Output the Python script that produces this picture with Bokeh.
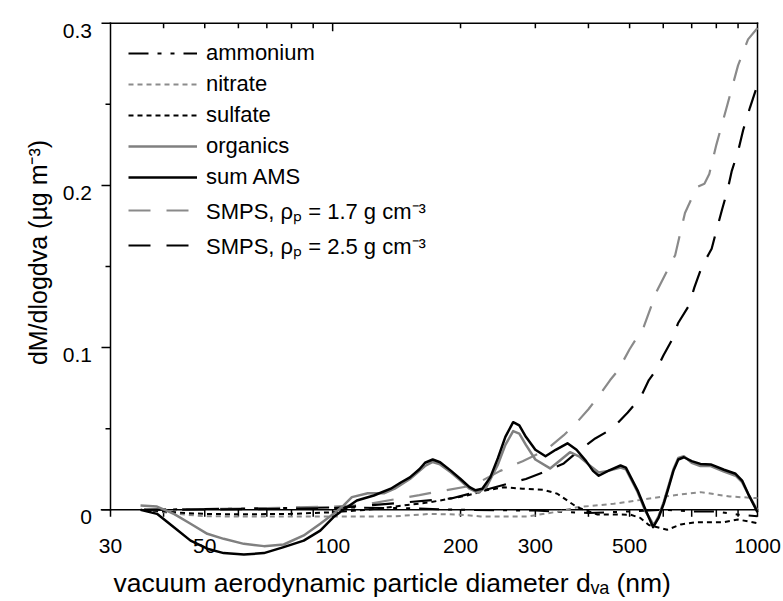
import math
from bokeh.plotting import figure
from bokeh.models import Range1d, Legend, LegendItem
from bokeh.core.properties import value
from bokeh.embed import file_html
from bokeh.resources import INLINE

FONT = "Liberation Sans"

# ---------------- data ----------------
x_tick_values = [30, 50, 100, 200, 300, 500, 1000]
x_tick_labels = ["30", "50", "100", "200", "300", "500", "1000"]
x_minor_ticks = [40, 60, 70, 80, 90, 400, 600, 700, 800, 900]
top_major_ticks = [100]
top_minor_ticks = [40, 50, 60, 70, 80, 90, 200, 300, 400, 500, 600, 700, 800, 900]
y_tick_values = [0, 0.1, 0.2, 0.3]
y_tick_labels = ["0", "0.1", "0.2", "0.3"]
y_minor_ticks = [0.05, 0.15, 0.25]

sum_d = [35.3, 38.6, 42.3, 46.3, 50.7, 55.4, 61.8, 68.9, 76.7, 85.5, 93.5, 100.5, 106, 114, 125,
         137, 145, 152, 160, 165, 172, 179, 190, 200, 210, 217, 225, 235, 245, 255, 266, 275,
         285, 300, 317, 335, 357, 375, 395, 410, 423, 445, 476, 490, 522, 545, 568, 585, 602, 618,
         634, 651, 671, 700, 734, 776, 834, 888, 920, 950, 1000]
sum_v = [0.0, -0.0025, -0.0107, -0.019, -0.024, -0.0267, -0.0276, -0.0267, -0.023, -0.019,
         -0.0128, -0.0045, 0.0, 0.0057, 0.0088, 0.013, 0.017,
         0.020, 0.025, 0.029, 0.031, 0.0293, 0.024, 0.019, 0.014, 0.012, 0.013, 0.020, 0.032,
         0.045, 0.054, 0.052, 0.045, 0.037, 0.033, 0.037, 0.041, 0.037, 0.030, 0.024, 0.021,
         0.024, 0.0273, 0.026, 0.012, 0.0, -0.0107, -0.005, 0.004, 0.014, 0.024, 0.031, 0.0324,
         0.030, 0.0283, 0.028, 0.0247, 0.0222, 0.018, 0.010, -0.0015]

org_d = [35.3, 38.6, 42.3, 46.3, 50.7, 55.4, 61.8, 68.9, 76.7, 85.5, 93.5, 100.5, 106, 111, 121,
         132, 140, 152, 165,
         172, 179, 190, 200, 210, 220, 230, 245, 255, 266, 275, 285, 300, 325, 345, 362, 380, 400,
         423, 445, 476, 490, 522, 545, 570, 585, 602, 618, 634, 651, 671, 700, 734, 776, 834, 888,
         920, 950, 1000]
org_v = [0.0026, 0.002, -0.0025, -0.0086, -0.0148, -0.0179, -0.021, -0.0224, -0.0214, -0.0158,
         -0.0086, -0.0025, 0.0026, 0.0078, 0.0102, 0.0102, 0.013, 0.019, 0.027, 0.0295, 0.028,
         0.023, 0.018,
         0.013, 0.0105, 0.014, 0.028, 0.040, 0.0485, 0.047, 0.040, 0.031, 0.0255, 0.031, 0.0355,
         0.033, 0.028, 0.023, 0.024, 0.026, 0.025, 0.011, -0.001, -0.0095, -0.004, 0.005, 0.015,
         0.025, 0.032, 0.033, 0.029, 0.027, 0.027, 0.0235, 0.021, 0.017, 0.010, -0.0005]

sulf_d = [36, 45, 50, 60, 80, 100, 120, 140, 170, 207, 230, 253, 280, 314, 338, 360, 376, 420,
          502, 530, 555, 613, 660, 720, 834, 900, 1000]
sulf_v = [0.0, -0.002, -0.0025, -0.0028, -0.0025, -0.0015, 0.0, 0.002, 0.0047, 0.0088, 0.012,
          0.0139, 0.013, 0.0123, 0.0099, 0.005, 0.0016, -0.0029, -0.003, -0.005, -0.0094,
          -0.0123, -0.009, -0.0076, -0.0076, -0.006, -0.0082]

nit_d = [36, 45, 50, 70, 100, 140, 170, 200, 223, 287, 340, 376, 459, 602, 734, 860, 1000]
nit_v = [0.0, -0.003, -0.004, -0.0042, -0.0042, -0.004, -0.0025, -0.003, -0.0041, -0.0041,
         -0.0011, 0.0016, 0.0037, 0.0082, 0.0109, 0.0082, 0.0072]

amm_d = [36, 50, 70, 100, 150, 200, 300, 400, 500, 600, 700, 800, 900, 1000]
amm_v = [0.0, 0.0005, 0.001, 0.0015, 0.001, 0.0, -0.0005, -0.002, -0.001, 0.0, -0.001, -0.001,
         -0.003, -0.004]

smps17_d = [36, 50, 70, 100, 118, 140, 160, 175, 214, 248, 280, 317, 350, 373, 400, 428, 450,
            470, 500, 540, 580, 640, 675, 720, 750, 770, 800, 850, 900, 950, 1000]
smps17_v = [0.0, 0.0005, 0.001, 0.002, 0.003, 0.0065, 0.009, 0.011, 0.015, 0.024, 0.030,
            0.0366, 0.046, 0.053, 0.062, 0.072, 0.080, 0.086, 0.099, 0.113, 0.135, 0.157,
            0.183, 0.199, 0.201, 0.207, 0.225, 0.250, 0.274, 0.290, 0.297]

smps25_d = [36, 70, 100, 147, 190, 234, 258, 285, 320, 350, 380, 415, 455, 495, 530, 555, 580,
            600, 630, 650, 690, 710, 740, 780, 800, 825, 850, 870, 900, 925, 960, 1000]
smps25_v = [0.0, 0.0005, 0.001, 0.0045, 0.007, 0.013, 0.016, 0.019, 0.024, 0.0286, 0.0366,
            0.044, 0.050, 0.060, 0.069, 0.080, 0.087, 0.095, 0.105, 0.115, 0.126, 0.137, 0.150,
            0.161, 0.172, 0.185, 0.197, 0.209, 0.221, 0.234, 0.248, 0.262]

# ---------------- layout (pixels) ----------------
W, H = 783, 601
PX_L, PX_R = 110.0, 757.0       # columns of d = 30 and d = 1000
PX_Y0, PX_YT = 509.3, 22.7      # rows of y = 0 and y = 0.3
X_LO, X_HI = 30.0, 1000.0
Y_HI = 0.3
PPD = (PX_R - PX_L) / math.log10(X_HI / X_LO)   # pixels per decade
PPU = (PX_Y0 - PX_YT) / Y_HI                     # pixels per unit of y


def xd(px):
    """data x for a canvas column"""
    return X_LO * 10 ** ((px - PX_L) / PPD)


def yd(py):
    """data y for a canvas row"""
    return (PX_Y0 - py) / PPU


# the frame covers the whole canvas; the axes are drawn with the data scales
p = figure(width=W, height=H, x_axis_type="log",
           x_range=Range1d(xd(0), xd(W)), y_range=Range1d(yd(H), yd(0)),
           x_axis_location=None, y_axis_location=None, title=None,
           output_backend="svg", toolbar_location=None, min_border=0)
p.title_location = None
p.outline_line_color = None
p.xgrid.grid_line_color = None
p.ygrid.grid_line_color = None
p.background_fill_color = "white"
p.border_fill_color = "white"

AX = dict(line_color="black", line_width=1.5)

# frame: top, left, right edges and the zero line
p.multi_line(xs=[[X_LO, X_HI], [X_LO, X_LO], [X_HI, X_HI], [xd(PX_L - 9), X_HI]],
             ys=[[Y_HI, Y_HI], [0, Y_HI], [0, Y_HI], [0, 0]], line_cap="square", **AX)

# bottom ticks (down from y = 0)
bt = x_tick_values + x_minor_ticks
p.segment(x0=bt, y0=[0] * len(bt), x1=bt, y1=[yd(PX_Y0 + 7)] * len(bt), **AX)
# top ticks (inward)
p.segment(x0=top_minor_ticks, y0=[Y_HI] * len(top_minor_ticks), x1=top_minor_ticks,
          y1=[yd(PX_YT + 5)] * len(top_minor_ticks), **AX)
p.segment(x0=top_major_ticks, y0=[Y_HI] * len(top_major_ticks), x1=top_major_ticks,
          y1=[yd(PX_YT + 8)] * len(top_major_ticks), **AX)
# left ticks (outward)
p.segment(x0=[xd(PX_L - 9)] * len(y_tick_values), y0=y_tick_values,
          x1=[X_LO] * len(y_tick_values), y1=y_tick_values, **AX)
p.segment(x0=[xd(PX_L - 5)] * len(y_minor_ticks), y0=y_minor_ticks,
          x1=[X_LO] * len(y_minor_ticks), y1=y_minor_ticks, **AX)

TICK_FS = "21px"
# y tick labels
p.text(x=[xd(PX_L - 18.5)] * len(y_tick_values), y=[v - 7.4 / PPU for v in y_tick_values],
       text=y_tick_labels, text_align="right", text_baseline="alphabetic",
       text_font=value(FONT), text_font_size=TICK_FS, text_color="black")
# x tick labels
p.text(x=x_tick_values, y=[yd(545.5)] * len(x_tick_values), text=x_tick_labels,
       text_align="center", text_baseline="alphabetic",
       text_font=value(FONT), text_font_size=TICK_FS, text_color="black")

# axis titles
p.text(x=[xd(37)], y=[yd(252)], text=["dM/dlogdva (\u00b5g m\u207b\u00b3)"], angle=math.pi / 2,
       text_align="center", text_baseline="alphabetic",
       text_font=value(FONT), text_font_size="25px", text_color="black")
p.text(x=[xd(113)], y=[yd(567)],
       text=["vacuum aerodynamic particle diameter d\u1d65\u2090 (nm)"],
       text_align="left", text_baseline="top",
       text_font=value(FONT), text_font_size="26.5px", text_color="black")

# ---------------- series ----------------
GRAY = "#808080"
r_amm = p.line(amm_d, amm_v, line_color="black", line_width=2, line_dash="20 9 4 9 4 9")
r_nit = p.line(nit_d, nit_v, line_color="#8c8c8c", line_width=2, line_dash="5 4")
r_sul = p.line(sulf_d, sulf_v, line_color="black", line_width=2, line_dash="5 4")
r_s17 = p.line(smps17_d, smps17_v, line_color="#8a8a8a", line_width=2.2, line_dash="22 16")
r_s25 = p.line(smps25_d, smps25_v, line_color="black", line_width=2.2, line_dash="22 16")
r_org = p.line(org_d, org_v, line_color=GRAY, line_width=2.5, line_join="round")
r_sum = p.line(sum_d, sum_v, line_color="black", line_width=2.5, line_join="round")

items = [
    LegendItem(label="ammonium", renderers=[r_amm]),
    LegendItem(label="nitrate", renderers=[r_nit]),
    LegendItem(label="sulfate", renderers=[r_sul]),
    LegendItem(label="organics", renderers=[r_org]),
    LegendItem(label="sum AMS", renderers=[r_sum]),
    LegendItem(label="SMPS, \u03c1\u209a = 1.7 g cm\u207b\u00b3", renderers=[r_s17]),
    LegendItem(label="SMPS, \u03c1\u209a = 2.5 g cm\u207b\u00b3", renderers=[r_s25]),
]
ROW_H, ROW_GAP = 26, 5
legend_bottom_px = 247.3 + ROW_H / 2
leg = Legend(items=items, location=(128, H - legend_bottom_px),
             glyph_width=69, glyph_height=ROW_H, label_height=ROW_H, label_standoff=9,
             spacing=ROW_GAP, padding=0, margin=0,
             border_line_color=None, background_fill_alpha=0,
             label_text_font=FONT, label_text_font_size="22px", label_text_color="black")
p.add_layout(leg)

open("out.html", "w").write(file_html(p, INLINE))
